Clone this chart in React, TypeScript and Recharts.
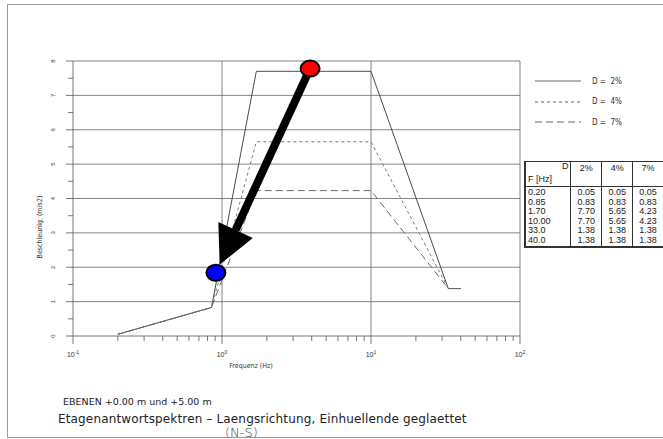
import React from "react"
import {
  LineChart,
  Line,
  XAxis,
  YAxis,
  CartesianGrid,
  Legend,
  ReferenceLine,
  ReferenceDot,
} from "recharts"

// frequencies (Hz) and spectral accelerations (m/s2) per damping
const FREQ = [0.2, 0.85, 1.7, 10.0, 33.0, 40.0]
const FREQ_LABELS = ["0.20", "0.85", "1.70", "10.00", "33.0", "40.0"]
const D2 = [0.05, 0.83, 7.7, 7.7, 1.38, 1.38]
const D4 = [0.05, 0.83, 5.65, 5.65, 1.38, 1.38]
const D7 = [0.05, 0.83, 4.23, 4.23, 1.38, 1.38]

const SERIES = [
  { key: "d2", name: "2%", values: D2, dash: undefined, color: "#4a4a4a" },
  { key: "d4", name: "4%", values: D4, dash: "3 3", color: "#7a7a7a" },
  { key: "d7", name: "7%", values: D7, dash: "7 4", color: "#6a6a6a" },
]

const X_TICKS = [
  0.1, 0.2, 0.3, 0.4, 0.5, 0.6, 0.7, 0.8, 0.9,
  1, 2, 3, 4, 5, 6, 7, 8, 9,
  10, 20, 30, 40, 50, 60, 70, 80, 90,
  100,
]
const DECADES = [0.1, 1, 10, 100]
const DECADE_EXP = ["-1", "0", "1", "2"]
const Y_TICKS = [0, 0.5, 1, 1.5, 2, 2.5, 3, 3.5, 4, 4.5, 5, 5.5, 6, 6.5, 7, 7.5, 8]
const Y_GRID = [1, 2, 3, 4, 5, 6, 7, 8]

// annotation: arrow from the red point down to the blue point
const ARROW_FROM = { x: 3.9, y: 7.78 }
const ARROW_TO = { x: 0.91, y: 1.84 }

const data = FREQ.map((f, i) => ({
  f,
  d2: D2[i],
  d4: D4[i],
  d7: D7[i],
}))

const AXIS_FONT = "'Liberation Sans', Arial, sans-serif"
const PLOT_FONT = "'DejaVu Sans', sans-serif"

// eslint-disable-next-line @typescript-eslint/no-explicit-any
const XTick = (props: any) => {
  const { x, y, payload } = props
  const idx = DECADES.indexOf(payload.value)
  const major = idx >= 0
  return (
    <g>
      <line x1={x} x2={x} y1={y} y2={y + (major ? 8 : 5)} stroke="#555" strokeWidth={0.8} />
      {major && (
        <text x={x} y={y + 21} textAnchor="middle" fontSize={7} fill="#333" fontFamily={AXIS_FONT}>
          10
          <tspan dy={-3} fontSize={5}>
            {DECADE_EXP[idx]}
          </tspan>
        </text>
      )}
    </g>
  )
}

// eslint-disable-next-line @typescript-eslint/no-explicit-any
const YTick = (props: any) => {
  const { x, y, payload } = props
  const major = Number.isInteger(payload.value)
  return (
    <g>
      <line x1={x - (major ? 7 : 5)} x2={x} y1={y} y2={y} stroke="#555" strokeWidth={0.8} />
      {major && (
        <text
          x={x - 20}
          y={y}
          transform={`rotate(-90 ${x - 20} ${y})`}
          textAnchor="middle"
          dominantBaseline="central"
          fontSize={6}
          fill="#333"
          fontFamily={AXIS_FONT}
        >
          {payload.value}
        </text>
      )}
    </g>
  )
}

// eslint-disable-next-line @typescript-eslint/no-explicit-any
const ArrowShape = (p: any) => {
  const { x1, y1, x2, y2 } = p
  const dx = x2 - x1
  const dy = y2 - y1
  const len = Math.hypot(dx, dy)
  const ux = dx / len
  const uy = dy / len
  const tipX = x2 - ux * 9
  const tipY = y2 - uy * 9
  const bx = tipX - ux * 38
  const by = tipY - uy * 38
  const px = -uy * 19
  const py = ux * 19
  return (
    <g>
      <line x1={x1} y1={y1} x2={bx} y2={by} stroke="#000" strokeWidth={8} />
      <polygon points={`${tipX},${tipY} ${bx + px},${by + py} ${bx - px},${by - py}`} fill="#000" />
    </g>
  )
}

const dotShape = (fill: string) => {
  // eslint-disable-next-line @typescript-eslint/no-explicit-any
  return (p: any) => <ellipse cx={p.cx} cy={p.cy} rx={9.5} ry={8} fill={fill} stroke="#000" strokeWidth={2} />
}

// eslint-disable-next-line @typescript-eslint/no-explicit-any
const LegendContent = ({ payload }: any) => (
  <div style={{ fontFamily: "'DejaVu Sans Condensed', 'DejaVu Sans', sans-serif", fontSize: 8, color: "#333" }}>
    {/* eslint-disable-next-line @typescript-eslint/no-explicit-any */}
    {(payload || []).map((entry: any) => {
      const s = SERIES.find((d) => d.key === entry.dataKey)
      return (
        <div key={entry.dataKey} style={{ display: "flex", alignItems: "center", height: 20.5 }}>
          <svg width={46} height={6}>
            <line x1={0} x2={46} y1={3} y2={3} stroke="#666" strokeWidth={1} strokeDasharray={s?.dash} />
          </svg>
          <span style={{ marginLeft: 11, whiteSpace: "pre" }}>{`D =  ${s?.name}`}</span>
        </div>
      )
    })}
  </div>
)

const cell: React.CSSProperties = { padding: "0 2px", lineHeight: "9.6px", whiteSpace: "nowrap" }

const ValueTable: React.FC = () => (
  <table
    style={{
      position: "absolute",
      left: 524,
      top: 161,
      borderCollapse: "collapse",
      fontFamily: AXIS_FONT,
      fontSize: 9,
      color: "#222",
      borderTop: "1.5px solid #333",
      borderLeft: "2px solid #333",
      borderBottom: "2px solid #333",
    }}
  >
    <tbody>
      <tr style={{ height: 25, verticalAlign: "top", borderBottom: "1px solid #333" }}>
        <td style={{ ...cell, width: 45, position: "relative" }}>
          <div style={{ textAlign: "right" }}>D</div>
          <div style={{ position: "absolute", bottom: 1, left: 2 }}>F [Hz]</div>
        </td>
        {SERIES.map((s) => (
          <td key={s.key} style={{ ...cell, width: 28, paddingTop: 2, textAlign: "center", borderLeft: "1px solid #333" }}>
            {s.name}
          </td>
        ))}
      </tr>
      {FREQ_LABELS.map((fl, i) => (
        <tr key={fl}>
          <td style={{ ...cell, paddingTop: i === 0 ? 1 : 0 }}>{fl}</td>
          {SERIES.map((s) => (
            <td key={s.key} style={{ ...cell, paddingTop: i === 0 ? 1 : 0, textAlign: "center", borderLeft: "1px solid #333" }}>
              {s.values[i].toFixed(2)}
            </td>
          ))}
        </tr>
      ))}
    </tbody>
  </table>
)

export default function App() {
  return (
    <div
      style={{
        position: "absolute",
        left: 0,
        top: 0,
        width: 663,
        height: 439,
        overflow: "hidden",
        background: "#fff",
      }}
    >
      {/* page frame */}
      <div
        style={{
          position: "absolute",
          left: 7,
          top: 4,
          width: 700,
          height: 432,
          borderTop: "1px solid #999",
          borderLeft: "1px solid #999",
          borderBottom: "1px solid #999",
        }}
      />
      <LineChart
        width={663}
        height={439}
        data={data}
        margin={{ top: 61, right: 143, left: 43, bottom: 73 }}
        style={{ position: "absolute", left: 0, top: 0 }}
      >
        <CartesianGrid
          horizontal
          vertical
          horizontalValues={Y_GRID}
          verticalValues={[1, 10, 100]}
          stroke="#666"
          strokeWidth={0.8}
        />
        <XAxis
          dataKey="f"
          type="number"
          scale="log"
          domain={[0.1, 100]}
          ticks={X_TICKS}
          interval={0}
          tick={<XTick />}
          tickLine={false}
          tickSize={0}
          tickMargin={0}
          axisLine={{ stroke: "#555", strokeWidth: 0.8 }}
          height={30}
        />
        <YAxis
          type="number"
          domain={[0, 8]}
          ticks={Y_TICKS}
          interval={0}
          tick={<YTick />}
          tickLine={false}
          tickSize={0}
          tickMargin={0}
          axisLine={{ stroke: "#555", strokeWidth: 0.8 }}
          width={30}
        />
        {SERIES.map((s) => (
          <Line
            key={s.key}
            dataKey={s.key}
            name={s.name}
            type="linear"
            stroke={s.color}
            strokeWidth={1}
            strokeDasharray={s.dash}
            dot={false}
            isAnimationActive={false}
          />
        ))}
        <ReferenceLine segment={[ARROW_FROM, ARROW_TO]} shape={ArrowShape} />
        <ReferenceDot x={ARROW_FROM.x} y={ARROW_FROM.y} r={9} shape={dotShape("#ff0000")} />
        <ReferenceDot x={ARROW_TO.x} y={ARROW_TO.y} r={9} shape={dotShape("#0000ff")} />
        <Legend
          layout="vertical"
          align="center"
          verticalAlign="middle"
          content={<LegendContent />}
          wrapperStyle={{ left: 535, top: 71, width: 110 }}
        />
      </LineChart>

      {/* axis titles */}
      <div
        style={{
          position: "absolute",
          left: 40,
          top: 227,
          transform: "translate(-50%, -50%) rotate(-90deg)",
          fontFamily: "'DejaVu Sans Condensed', 'DejaVu Sans', sans-serif",
          fontSize: 7,
          color: "#333",
          whiteSpace: "nowrap",
        }}
      >
        Beschleunig. (m/s2)
      </div>
      <div
        style={{
          position: "absolute",
          left: 251,
          top: 366,
          transform: "translate(-50%, -50%)",
          fontFamily: "'DejaVu Sans Condensed', 'DejaVu Sans', sans-serif",
          fontSize: 7,
          color: "#333",
          whiteSpace: "nowrap",
        }}
      >
        Frequenz (Hz)
      </div>

      <ValueTable />

      {/* captions */}
      <div
        style={{
          position: "absolute",
          left: 63,
          top: 396,
          fontFamily: PLOT_FONT,
          fontSize: 9.5,
          lineHeight: "11px",
          color: "#222",
          whiteSpace: "nowrap",
        }}
      >
        EBENEN +0.00 m und +5.00 m
      </div>
      <div
        style={{
          position: "absolute",
          left: 58,
          top: 413,
          fontFamily: PLOT_FONT,
          fontSize: 12,
          lineHeight: "13px",
          letterSpacing: 0.15,
          color: "#222",
          whiteSpace: "nowrap",
        }}
      >
        Etagenantwortspektren – Laengsrichtung, Einhuellende geglaettet
      </div>
      <div
        style={{
          position: "absolute",
          left: 225,
          top: 426,
          fontFamily: PLOT_FONT,
          fontSize: 13,
          lineHeight: "13px",
          fontWeight: 200,
          color: "#444",
          whiteSpace: "nowrap",
        }}
      >
        (N-S)
      </div>
    </div>
  )
}
